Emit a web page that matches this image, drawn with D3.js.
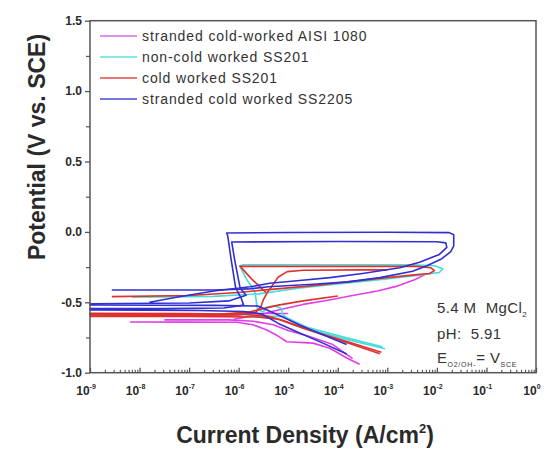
<!DOCTYPE html>
<html><head><meta charset="utf-8">
<script src="https://cdn.jsdelivr.net/npm/d3@7/dist/d3.min.js"></script>
<style>body{margin:0;background:#fff;} svg{display:block;font-family:Arial,"Liberation Sans",sans-serif;}</style>
</head><body>
<svg id="c" width="549" height="452"></svg>
<script>
// Series: each is a list of segments; points are [log10(current A/cm2), potential V]
const seriesNames = ["stranded cold-worked AISI 1080","non-cold worked SS201","cold worked SS201","stranded cold worked SS2205"];
const seriesColors = ["#e13ee6","#45dcdc","#e0302c","#3030d2"];
const legendColors = ["#d46ee0","#62dede","#e04848","#4a4ad8"];

const magenta = [
  [[-3.56,-0.94],[-3.82,-0.896],[-4.16,-0.826],[-4.5,-0.79],[-5.03,-0.78],[-5.25,-0.73],[-5.43,-0.697],[-5.71,-0.66],[-6.04,-0.642],[-7,-0.641],[-8.19,-0.64]],
  [[-3.7,-0.90],[-4.1,-0.80],[-4.6,-0.74],[-5.0,-0.70],[-5.3,-0.66],[-5.7,-0.635],[-6.2,-0.625],[-7.5,-0.625]],
  [[-6.1,-0.62],[-5.6,-0.59],[-5.2,-0.555],[-4.7,-0.515],[-4.2,-0.485],[-3.7,-0.452],[-3.2,-0.42],[-2.8,-0.385],[-2.45,-0.34],[-2.25,-0.305]],
  [[-6.1,-0.58],[-5.0,-0.58]]
];
const cyan = [
  [[-3.05,-0.83],[-3.8,-0.765],[-4.5,-0.70],[-5.03,-0.61],[-5.13,-0.578],[-5.12,-0.545],[-5.28,-0.525],[-5.45,-0.535],[-5.5,-0.57],[-5.62,-0.55],[-5.67,-0.43],[-5.85,-0.33],[-5.98,-0.24],[-5.9,-0.233],[-4,-0.233],[-2.5,-0.234],[-2.05,-0.24],[-1.88,-0.262],[-1.95,-0.288],[-2.2,-0.30],[-2.7,-0.322],[-3.3,-0.345],[-4,-0.37],[-4.8,-0.40],[-5.6,-0.44],[-6.5,-0.458],[-8.15,-0.463]],
  [[-3.1,-0.815],[-3.9,-0.745],[-4.6,-0.68],[-5.1,-0.6],[-6.5,-0.597],[-9,-0.595]]
];
const red = [
  [[-3.12,-0.855],[-3.8,-0.78],[-4.5,-0.705],[-5.1,-0.63],[-5.4,-0.60],[-5.9,-0.585],[-7,-0.58],[-9,-0.578],[-9,-0.59],[-7,-0.593],[-6,-0.59],[-5.65,-0.57],[-5.55,-0.53],[-5.5,-0.48],[-5.42,-0.43],[-5.32,-0.38],[-5.2,-0.32],[-5.02,-0.282],[-4.7,-0.272],[-3.5,-0.27],[-3.0,-0.27]],
  [[-5.45,-0.43],[-5.75,-0.33],[-5.97,-0.245],[-5,-0.245],[-3.5,-0.245],[-2.4,-0.245],[-2.12,-0.255],[-2.05,-0.275],[-2.15,-0.295],[-2.45,-0.305],[-3,-0.325],[-3.8,-0.355],[-4.6,-0.385],[-5.4,-0.41],[-6,-0.43],[-7,-0.452],[-8.56,-0.46]],
  [[-3.15,-0.865],[-4,-0.765],[-4.7,-0.685],[-5.2,-0.62],[-5.6,-0.605],[-7,-0.60],[-9,-0.60]],
  [[-9,-0.585],[-6.5,-0.587],[-5.8,-0.57],[-5.2,-0.52],[-4.7,-0.49],[-4.0,-0.455]]
];
const blue = [
  [[-3.82,-0.867],[-4.3,-0.79],[-4.77,-0.718],[-5.2,-0.65],[-5.53,-0.583],[-5.9,-0.565],[-6.8,-0.558],[-9,-0.555],[-9,-0.545],[-7.5,-0.545],[-6.3,-0.54],[-5.9,-0.52],[-5.95,-0.47],[-6.06,-0.40],[-6.15,-0.2],[-6.22,-0.03],[-6.24,-0.008],[-5,-0.004],[-3,-0.003],[-1.75,-0.005],[-1.66,-0.02],[-1.66,-0.10],[-1.72,-0.14],[-1.9,-0.19],[-2.2,-0.24],[-2.49,-0.28],[-3.15,-0.325],[-3.8,-0.355],[-4.5,-0.372],[-5.4,-0.39],[-5.8,-0.405],[-6.5,-0.413],[-8.56,-0.413]],
  [[-3.82,-0.80],[-4.3,-0.73],[-4.77,-0.661],[-5.2,-0.59],[-5.61,-0.526],[-6.5,-0.522],[-9,-0.519],[-9,-0.51],[-7,-0.505],[-6.2,-0.49],[-5.85,-0.45],[-5.97,-0.40],[-6.08,-0.2],[-6.14,-0.072],[-4,-0.068],[-2,-0.07],[-1.82,-0.078],[-1.8,-0.11],[-1.95,-0.16],[-2.35,-0.215],[-2.75,-0.255],[-3.5,-0.295],[-4.16,-0.325],[-4.77,-0.345],[-5.37,-0.365],[-5.77,-0.39],[-6.5,-0.42],[-7.2,-0.46],[-7.8,-0.50]]
];
const seriesData = [magenta, cyan, red, blue];

const yTicks = [-1.0,-0.5,0.0,0.5,1.0,1.5];
const yMinor = [-0.75,-0.25,0.25,0.75,1.25];
const xExps = [-9,-8,-7,-6,-5,-4,-3,-2,-1,0];
const noteLines = ["5.4 M\u00a0 MgCl", "pH:\u00a0 5.91"];

const svg = d3.select("#c");
const L = 90, R = 536, T = 20.7, B = 372.7;
const x = d3.scaleLog().domain([1e-9, 1]).range([L, R]);
const y = d3.scaleLinear().domain([-1, 1.5]).range([B, T]);
const axisCol = "#555", textCol = "#2a2a2a";

// series
const line = d3.line().x(d => x(Math.pow(10, d[0]))).y(d => y(d[1]));
seriesData.forEach((segs, i) => {
  svg.append("g").selectAll("path").data(segs).join("path")
    .attr("d", line).attr("fill", "none")
    .attr("stroke", seriesColors[i]).attr("stroke-width", 1.6).attr("stroke-linejoin", "round");
});

// frame
svg.append("rect").attr("x", L).attr("y", T).attr("width", R - L).attr("height", B - T)
  .attr("fill", "none").attr("stroke", axisCol).attr("stroke-width", 1.5);

// y axis
const yAxis = d3.axisLeft(y).tickValues(yTicks).tickSize(5).tickPadding(3);
const gy = svg.append("g").attr("transform", `translate(${L},0)`).call(yAxis);
gy.select(".domain").remove();
gy.selectAll("line").attr("stroke", axisCol).attr("stroke-width", 1.3);
gy.selectAll("text").attr("font-size", 12).attr("font-weight", "bold").attr("fill", textCol).attr("font-family", "Arial, 'Liberation Sans', sans-serif");
gy.selectAll("text").text(d => d < 0 ? "-" + Math.abs(d).toFixed(1) : d.toFixed(1));
const gym = svg.append("g").attr("transform", `translate(${L},0)`).call(d3.axisLeft(y).tickValues(yMinor).tickFormat("").tickSize(4));
gym.select(".domain").remove();
gym.selectAll("line").attr("stroke", axisCol).attr("stroke-width", 1.2);

// x axis
const xMinor = [];
xExps.slice(0, -1).forEach(e => { for (let k = 2; k <= 9; k++) xMinor.push(k * Math.pow(10, e)); });
const gx = svg.append("g").attr("transform", `translate(0,${B})`)
  .call(d3.axisBottom(x).tickValues(xExps.map(e => Math.pow(10, e))).tickFormat("").tickSize(-5));
gx.select(".domain").remove();
gx.selectAll("line").attr("stroke", axisCol).attr("stroke-width", 1.3);
const gxm = svg.append("g").attr("transform", `translate(0,${B})`)
  .call(d3.axisBottom(x).tickValues(xMinor).tickFormat("").tickSize(-3));
gxm.select(".domain").remove();
gxm.selectAll("line").attr("stroke", axisCol).attr("stroke-width", 1.1);

// x tick labels with superscripts
const xl = svg.append("g").selectAll("text").data(xExps).join("text")
  .attr("x", d => x(Math.pow(10, d)) - 4).attr("y", B + 22)
  .attr("text-anchor", "middle").attr("font-size", 12).attr("font-weight", "bold").attr("fill", textCol);
xl.append("tspan").text("10");
xl.append("tspan").attr("dy", -6).attr("font-size", 7).text(d => d === 0 ? "0" : "-" + Math.abs(d));

// axis titles
svg.append("text").attr("transform", `translate(45,147) rotate(-90)`).attr("text-anchor", "middle")
  .attr("font-size", 23).attr("font-weight", "bold").attr("fill", textCol).text("Potential (V vs. SCE)");
const xt = svg.append("text").attr("x", 305).attr("y", 443).attr("text-anchor", "middle")
  .attr("font-size", 23).attr("font-weight", "bold").attr("fill", textCol);
xt.append("tspan").text("Current Density (A/cm");
xt.append("tspan").attr("dy", -10).attr("font-size", 13).text("2");
xt.append("tspan").attr("dy", 10).text(")");

// legend
const lg = svg.append("g").selectAll("g").data(seriesNames).join("g")
  .attr("transform", (d, i) => `translate(0,${36 + i * 21})`);
lg.append("line").attr("x1", 100).attr("x2", 137).attr("y1", 0).attr("y2", 0)
  .attr("stroke", (d, i) => legendColors[i]).attr("stroke-width", 1.6);
lg.append("text").attr("x", 142).attr("y", 5).attr("font-size", 14).attr("fill", "#333")
  .attr("letter-spacing", 0.9).text(d => d);

// annotation
const nt = svg.append("g").attr("fill", "#333").attr("font-size", 15).attr("letter-spacing", 0.4);
const t1 = nt.append("text").attr("x", 437).attr("y", 313);
t1.append("tspan").text(noteLines[0]);
t1.append("tspan").attr("dy", 4).attr("font-size", 8).text("2");
nt.append("text").attr("x", 437).attr("y", 339).text(noteLines[1]);
const t3 = nt.append("text").attr("x", 437).attr("y", 363);
t3.append("tspan").text("E");
t3.append("tspan").attr("dy", 4).attr("font-size", 7).attr("letter-spacing", 0.8).text("O2/OH-");
t3.append("tspan").attr("dy", -4).text("= V");
t3.append("tspan").attr("dy", 4).attr("font-size", 7).attr("letter-spacing", 0.8).text("SCE");
</script>
</body></html>
